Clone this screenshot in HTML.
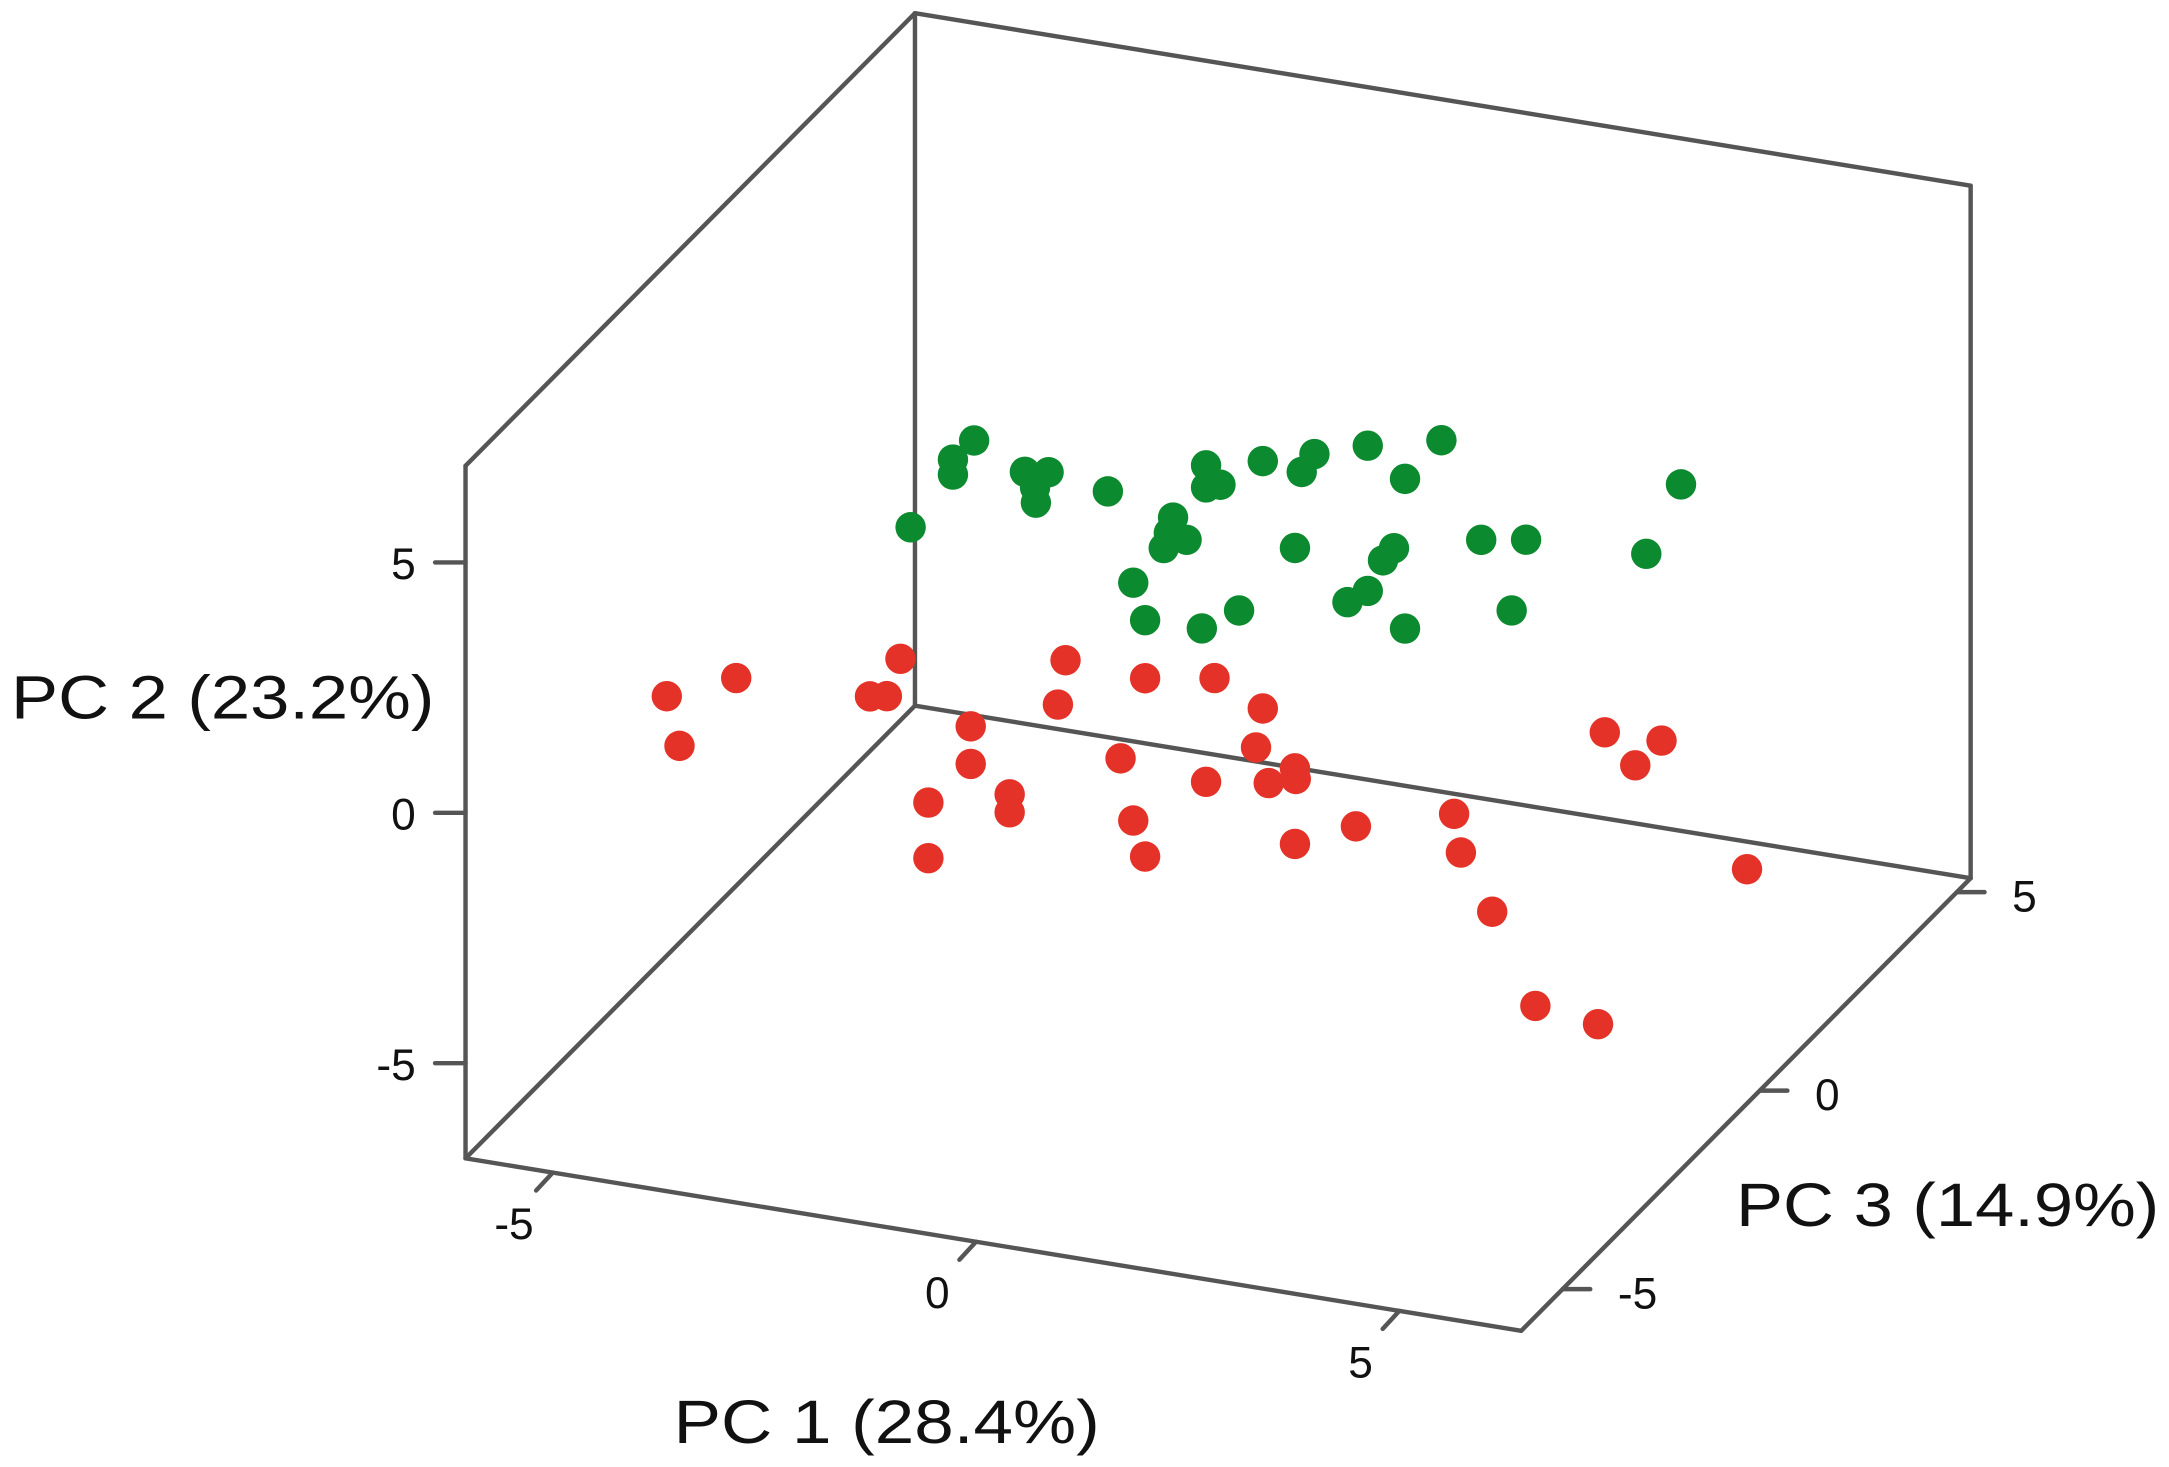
<!DOCTYPE html>
<html><head><meta charset="utf-8"><style>
html,body{margin:0;padding:0;background:#fff;}
svg{display:block;}
text{font-family:"Liberation Sans",Arial,sans-serif;fill:#111;}
</style></head><body>
<svg id="chart" width="2169" height="1467" viewBox="0 0 1568 1060" xmlns="http://www.w3.org/2000/svg">
<g id="box"></g>
<g id="ticks"></g>
<g id="pts"></g>
<text x="8" y="519" font-size="44" textLength="306" lengthAdjust="spacingAndGlyphs">PC 2 (23.2%)</text>
<text x="487" y="1043" font-size="44" textLength="308" lengthAdjust="spacingAndGlyphs">PC 1 (28.4%)</text>
<text x="1255" y="886" font-size="44" textLength="306" lengthAdjust="spacingAndGlyphs">PC 3 (14.9%)</text>
</svg>
<script>
const xTicks=[-5,0,5];
const yTicks=[-5,0,5];
const zTicks=[-5,0,5];
const xLim=[-6.03,6.44];
const yLim=[-6.9,6.93];
const zLim=[-6.05,5.35];
const greenX=[-2.84,-3.09,-3.09,-3.59,-2.24,-1.96,-2.12,-2.11,-1.26,-0.10,-0.10,0.07,0.57,1.18,1.03,1.81,2.68,2.25,-0.49,-0.54,-0.33,-0.60,-0.96,-0.82,-0.15,0.29,0.95,2.12,1.99,1.81,1.57,2.25,3.15,3.68,3.51,5.10,5.51];
const greenY=[3.52,3.07,2.77,1.58,3.06,3.13,2.78,2.48,2.94,3.78,3.34,3.44,4.05,4.36,3.96,4.70,5.05,4.16,2.63,2.31,2.23,1.99,1.20,0.49,0.51,0.99,2.42,2.74,2.46,1.80,1.51,1.17,3.19,3.34,1.88,3.45,4.95];
const redX=[-6.47,-6.32,-5.65,-4.07,-3.87,-3.71,-2.88,-2.88,-3.38,-3.38,-2.42,-2.42,-1.76,-1.85,-0.82,0.00,-1.11,-0.96,-0.82,-0.10,0.57,0.49,0.95,0.64,0.96,0.95,1.67,2.83,2.91,3.28,3.79,4.53,4.61,4.97,5.28,6.29];
const redY=[-2.59,-3.54,-2.00,-1.93,-1.87,-1.08,-2.20,-2.95,-3.86,-4.97,-3.43,-3.79,-0.57,-1.48,-0.67,-0.44,-2.35,-3.55,-4.23,-2.54,-0.89,-1.69,-1.98,-2.36,-2.19,-3.49,-2.94,-2.37,-3.12,-4.20,-5.94,-6.10,-0.25,-0.81,-0.23,-2.52];
const greenZ=greenX.map(()=>0);
const redZ=redX.map(()=>0);

const NS="http://www.w3.org/2000/svg";
function P(x,y,z){return [878+61.2*x+28.5*z, 474+10*x-36.2*y-28.7*z];}
function line(g,a,b,name){
  const l=document.createElementNS(NS,'line');
  l.setAttribute('x1',a[0]);l.setAttribute('y1',a[1]);l.setAttribute('x2',b[0]);l.setAttribute('y2',b[1]);
  l.setAttribute('stroke','#555');l.setAttribute('stroke-width','3.2');l.setAttribute('stroke-linecap','round');
  
  
  g.appendChild(l);
}
function txt(g,x,y,s,anchor,name){
  const t=document.createElementNS(NS,'text');
  t.setAttribute('x',x);t.setAttribute('y',y);t.setAttribute('font-size','32');t.setAttribute('text-anchor',anchor);
  t.textContent=s;
  
  
  g.appendChild(t);
}
const box=document.getElementById('box');
const [x0,x1]=xLim,[y0,y1]=yLim,[z0,z1]=zLim;
line(box,P(x0,y0,z0),P(x0,y1,z0),'front-left-edge');
line(box,P(x0,y1,z0),P(x0,y1,z1),'top-left-edge');
line(box,P(x0,y1,z1),P(x0,y0,z1),'back-left-edge');
line(box,P(x0,y1,z1),P(x1,y1,z1),'top-back-edge');
line(box,P(x1,y1,z1),P(x1,y0,z1),'back-right-edge');
line(box,P(x0,y0,z0),P(x0,y0,z1),'floor-left-edge');
line(box,P(x0,y0,z1),P(x1,y0,z1),'floor-back-edge');
line(box,P(x1,y0,z1),P(x1,y0,z0),'floor-right-edge');
line(box,P(x1,y0,z0),P(x0,y0,z0),'floor-front-edge');

const tk=document.getElementById('ticks');
yTicks.forEach(v=>{const p=P(x0,v,z0);line(tk,[p[0]-22,p[1]],p,'y-tick');txt(tk,p[0]-36,p[1]+12,String(v),'end','y-tick-label');});
xTicks.forEach(v=>{const p=P(v,y0,z0);line(tk,p,[p[0]-12,p[1]+13],'x-tick');txt(tk,p[0]-28,p[1]+48,String(v),'middle','x-tick-label');});
zTicks.forEach(v=>{const p=P(x1,y0,v);line(tk,p,[p[0]+20,p[1]],'z-tick');txt(tk,p[0]+40,p[1]+14,String(v),'start','z-tick-label');});

const pts=document.getElementById('pts');
function dots(X,Y,Z,color,name){
  X.forEach((x,i)=>{const p=P(x,Y[i],Z[i]);
    const c=document.createElementNS(NS,'circle');
    c.setAttribute('cx',p[0]);c.setAttribute('cy',p[1]);c.setAttribute('r','11');c.setAttribute('fill',color);
    
    
    pts.appendChild(c);});
}
dots(redX,redY,redZ,'#e53228','red-point');
dots(greenX,greenY,greenZ,'#0c8a2f','green-point');
</script>
</body></html>
